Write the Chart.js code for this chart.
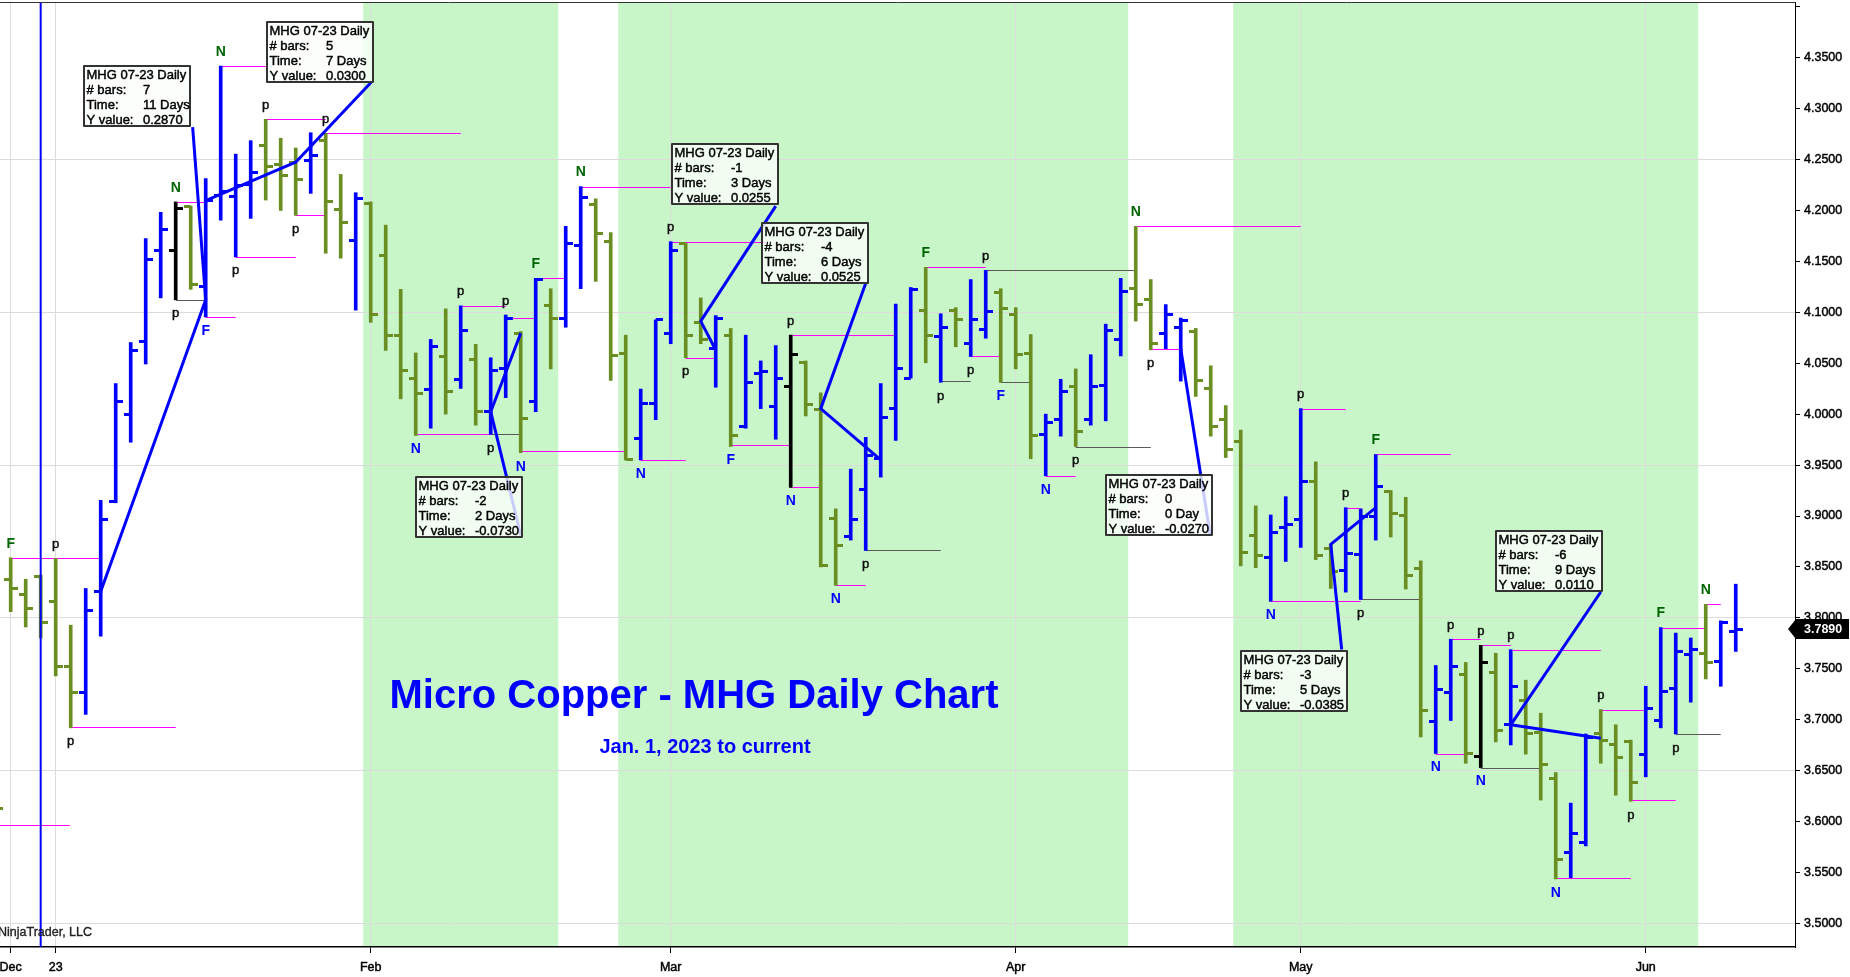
<!DOCTYPE html>
<html><head><meta charset="utf-8">
<script src="https://cdn.jsdelivr.net/npm/chart.js@4.4.0/dist/chart.umd.min.js"></script>
<style>html,body{margin:0;padding:0;background:#fff;overflow:hidden}#wrap{width:1850px;height:977px;position:relative}</style>
</head><body><div id="wrap"><canvas id="c" width="1850" height="977"></canvas></div>
<script>
// ---------- DATA ----------
const barNo = [-1,0,1,2,3,4,5,6,7,8,9,10,11,12,13,14,15,16,17,18,19,20,21,22,23,24,25,26,27,28,29,30,31,32,33,34,35,36,37,38,39,40,41,42,43,44,45,46,47,48,49,50,51,52,53,54,55,56,57,58,59,60,61,62,63,64,65,66,67,68,69,70,71,72,73,74,75,76,77,78,79,80,81,82,83,84,85,86,87,88,89,90,91,92,93,94,95,96,97,98,99,100,101,102,103,104,105,106,107,108,109,110,111,112,113,114,115];
const opens = [3.6250,3.8373,3.8229,3.8403,3.8163,3.7521,3.7263,3.8259,3.9142,3.9994,4.0715,4.1603,4.1603,4.2041,4.1255,4.2150,4.2140,4.2250,4.2636,4.2455,4.2473,4.2491,4.2684,4.2011,4.1705,4.2071,4.1555,4.0775,4.0354,4.0240,4.0565,4.0342,4.0541,4.0024,4.0450,4.0793,4.0120,4.1063,4.0943,4.1651,4.2053,4.1693,4.0595,3.9760,4.0102,4.0793,4.1675,4.0895,4.0643,4.0775,3.9880,4.0402,4.0072,4.0270,4.0504,4.0042,3.8974,3.8800,3.9262,3.9562,4.0060,4.0354,4.1015,4.0763,4.1021,4.0691,4.0835,4.1195,4.0973,4.0595,3.9802,3.9952,4.0270,3.9952,4.0282,4.0733,4.1231,4.1123,4.0793,4.0850,4.0811,4.0252,3.9952,3.9730,3.8812,3.8590,3.8890,3.8962,3.9340,3.8680,3.8469,3.8620,3.8992,3.9244,3.9010,3.8481,3.6981,3.7263,3.7443,3.6639,3.7461,3.6951,3.7191,3.6873,3.6422,3.5702,3.5792,3.6861,3.6753,3.6789,3.6663,3.6993,3.7311,3.7641,3.7653,3.7569,3.7863];
const highs = [3.6350,3.8590,3.8379,3.8420,3.8584,3.7929,3.8289,3.9154,4.0300,4.0703,4.1723,4.1981,4.2083,4.2041,4.2311,4.3416,4.2552,4.2684,4.2894,4.2708,4.2612,4.2762,4.2756,4.2353,4.2173,4.2083,4.1855,4.1225,4.0601,4.0733,4.1033,4.1063,4.0685,4.0553,4.0973,4.0811,4.1333,4.1231,4.1843,4.2233,4.2113,4.1783,4.0775,4.0246,4.0925,4.1693,4.1675,4.1141,4.0967,4.0841,4.0775,4.0522,4.0673,4.0775,4.0522,4.0210,3.9070,3.9460,3.9772,4.0300,4.1081,4.1243,4.1441,4.0985,4.1045,4.1321,4.1411,4.1231,4.1045,4.0781,4.0000,4.0342,4.0444,4.0583,4.0883,4.1333,4.1843,4.1321,4.1075,4.0943,4.0841,4.0474,4.0084,3.9844,3.9100,3.9010,3.9190,4.0054,3.9532,3.8722,3.9082,3.9070,3.9604,3.9250,3.9184,3.8560,3.7533,3.7791,3.7563,3.7731,3.7653,3.7689,3.7389,3.7065,3.6482,3.6182,3.6861,3.7101,3.6951,3.6801,3.7329,3.7905,3.7851,3.7803,3.8133,3.7971,3.8331];
const lows = [3.5972,3.8061,3.7911,3.7803,3.7431,3.6921,3.7053,3.7821,3.9130,3.9724,4.0492,4.1141,4.1123,4.1225,4.0955,4.1903,4.1543,4.1921,4.2101,4.1999,4.1951,4.2167,4.1579,4.1531,4.1021,4.0901,4.0625,4.0150,3.9790,3.9862,4.0000,4.0252,3.9892,3.9802,4.0162,3.9622,4.0024,4.0444,4.0853,4.1231,4.1303,4.0330,3.9550,3.9550,3.9946,4.0691,4.0553,4.0691,4.0264,3.9682,3.9862,4.0054,3.9754,3.9280,3.9982,3.8500,3.8319,3.8764,3.8662,3.9382,3.9742,4.0354,4.0504,4.0312,4.0661,4.0565,4.0745,4.0312,4.0444,3.9562,3.9394,3.9784,3.9682,3.9892,3.9934,4.0571,4.0913,4.0631,4.0643,4.0324,4.0174,3.9784,3.9574,3.8511,3.8493,3.8163,3.8554,3.8692,3.8572,3.8289,3.8253,3.8181,3.8764,3.8794,3.8283,3.6831,3.6669,3.6993,3.6573,3.6531,3.6783,3.6753,3.6663,3.6212,3.5438,3.5450,3.5762,3.6573,3.6260,3.6200,3.6440,3.6921,3.6861,3.7173,3.7401,3.7329,3.7671];
const closes = [3.6128,3.8289,3.8097,3.7959,3.7521,3.7263,3.8073,3.8968,4.0120,4.0625,4.1513,4.1813,4.2023,4.1273,4.2095,4.2185,4.2240,4.2371,4.2431,4.2341,4.2305,4.2534,4.2083,4.1885,4.2113,4.0973,4.0775,4.0426,4.0204,4.0667,4.0222,4.0823,4.0024,4.0432,4.0943,3.9958,4.1321,4.0943,4.1675,4.2131,4.1771,4.0571,3.9550,4.0102,4.0925,4.1603,4.0775,4.0733,4.0943,3.9790,4.0312,4.0420,4.0354,4.0583,4.0090,3.8511,3.8710,3.8962,3.9592,3.9964,4.0450,4.1225,4.0775,4.0853,4.0931,4.0931,4.1003,4.1033,4.0583,3.9790,3.9922,4.0222,3.9832,4.0270,4.0823,4.1201,4.1075,4.0691,4.0973,4.0920,4.0330,3.9874,3.9652,3.8644,3.8614,3.8842,3.8914,3.9340,3.8614,3.8451,3.8632,3.8992,3.9292,3.9022,3.8421,3.7089,3.7293,3.7521,3.6669,3.7563,3.6891,3.7323,3.6861,3.6561,3.5624,3.5888,3.6831,3.6801,3.6633,3.6380,3.7113,3.7281,3.7671,3.7689,3.7563,3.7959,3.7890];
const markedBars = [11, 52, 98];

const xTickBars = [0, 3, 24, 44, 67, 86, 109];
const xTickLabels = ['Dec', '23', 'Feb', 'Mar', 'Apr', 'May', 'Jun'];
const yTicks = [3.50,3.55,3.60,3.65,3.70,3.75,3.80,3.85,3.90,3.95,4.00,4.05,4.10,4.15,4.20,4.25,4.30,4.35,4.40];

const shadeFrom = [23.5, 40.5, 81.5];
const shadeTo = [36.5, 74.5, 112.5];
const sessionLineBar = 2;

// swing markers: bar, side (h/l), text
const markBar  = [0,3,4,11,11,13,14,15,17,19,21,27,30,32,33,34,35,38,42,44,45,48,52,52,55,57,61,62,64,65,66,69,71,75,76,84,86,89,90,91,95,96,98,98,100,103,106,108,110,111,113];
const markSide = ['h','h','l','h','l','l','h','l','h','l','h','l','h','l','h','l','h','h','l','h','l','l','h','l','l','l','h','l','l','h','l','l','l','h','l','l','h','h','l','h','l','h','h','l','h','l','h','l','h','l','h'];
const markText = ['F','p','p','N','p','F','N','p','p','p','p','N','p','p','p','N','F','N','N','p','p','F','p','N','N','p','F','p','p','p','F','N','p','N','p','N','p','p','p','F','N','p','p','N','p','N','p','p','F','p','N'];

// horizontal level lines: from bar, to bar, price
const magFrom = [-1.5,0,4,11,13,14,15,17,19,21,27,30,33,34,35,38,42,44,45,48,52,52,55,61,64,69,75,76,84,86,89,91,95,96,98,100,103,106,108,110,113];
const magTo   = [3.95,6,11,13,15,17,19,21,21,30,32,33,35,41,37,44,45,50.4,47,52,59,54,57,65,66,71,86,78,90,89,90,96,97,98,100,106,108,109,111,113,114];
const magVal  = [3.5972,3.8584,3.6925,4.2083,4.0955,4.3416,4.1543,4.2894,4.1951,4.2762,3.9802,4.1063,4.0943,3.9640,4.1333,4.2233,3.9550,4.1693,4.0553,3.9694,4.0775,3.9280,3.8319,4.1441,4.0571,3.9394,4.1843,4.0643,3.8163,4.0054,3.9082,3.9604,3.6669,3.7791,3.7731,3.7689,3.5450,3.7101,3.6212,3.7905,3.8133];
const grayFrom = [11,32,57,62,65,66,71,90,98,111];
const grayTo   = [13,34,62,64,75,68,76,94,102,114];
const grayVal  = [4.1123,3.9802,3.8662,4.0330,4.1411,4.0312,3.9682,3.8181,3.6531,3.6861];

// drawn measuring lines: [bar, price] polylines
const measureLines = [
  [[6,3.8260],[13,4.1123],[12.13,4.2816]],
  [[13,4.2095],[19,4.2473],[24.02,4.3254]],
  [[34,4.0793],[32,4.0024],[34,3.8812]],
  [[47,4.0630],[46,4.0913],[51,4.2041]],
  [[58,3.9550],[54,4.0054],[57,4.1285]],
  [[78,4.0643],[79.97,3.8812]],
  [[91,3.9082],[88,3.8722],[88.73,3.7690]],
  [[106,3.6819],[100,3.6951],[106,3.8254]]
];
// info boxes: top-left anchor (bar, price) and contents
const boxBar   = [4.8, 17.0, 26.97, 44.0, 50.0, 72.97, 81.97, 98.97];
const boxPrice = [4.3422, 4.3854, 3.9392, 4.2666, 4.1885, 3.9412, 3.7684, 3.8862];
const boxBars  = ['7','5','-2','-1','-4','0','-3','-6'];
const boxTime  = ['11 Days','7 Days','2 Days','3 Days','6 Days','0 Day','5 Days','9 Days'];
const boxY     = ['0.2870','0.0300','-0.0730','0.0255','0.0525','-0.0270','-0.0385','0.0110'];

const titleText = 'Micro Copper - MHG Daily Chart';
const subtitleText = 'Jan. 1, 2023 to current';
const creditText = 'NinjaTrader, LLC';

// ---------- STYLE ----------
const BLUE = '#0000FF', OLIVE = '#6B8E23', BLACK = '#000000', NGREEN = '#006400';
const FONT = '"Liberation Sans", Arial, Helvetica, sans-serif';

const barColors = barNo.map((b, i) => markedBars.includes(b) ? BLACK : (closes[i] >= opens[i] ? BLUE : OLIVE));

const tickCache = {};
function tickImg(color, side) {
  const key = color + side;
  if (tickCache[key]) return tickCache[key];
  const c = document.createElement('canvas');
  c.width = 14; c.height = 3;
  const g = c.getContext('2d');
  g.fillStyle = color;
  if (side < 0) g.fillRect(0, 0, 7, 3); else g.fillRect(7, 0, 7, 3);
  tickCache[key] = c;
  return c;
}

function heavyText(ctx, t, x, y, w) {
  ctx.fillText(t, x, y);
  ctx.lineWidth = w;
  ctx.strokeStyle = ctx.fillStyle;
  ctx.strokeText(t, x, y);
}

const annot = {
  id: 'annot',
  beforeDraw(chart) {
    const {ctx, chartArea: a, scales: {x}} = chart;
    ctx.save();
    ctx.fillStyle = '#fff';
    ctx.fillRect(0, 0, chart.width, chart.height);
    ctx.beginPath(); ctx.rect(a.left, a.top, a.right - a.left, a.bottom - a.top); ctx.clip();
    ctx.fillStyle = '#C8F6C8';
    for (let i = 0; i < shadeFrom.length; i++) {
      const x0 = x.getPixelForValue(shadeFrom[i]), x1 = x.getPixelForValue(shadeTo[i]);
      ctx.fillRect(x0, a.top, x1 - x0, a.bottom - a.top);
    }
    ctx.restore();
  },
  beforeDatasetsDraw(chart) {
    const {ctx, chartArea: a, scales: {x, y}} = chart;
    ctx.save();
    ctx.beginPath(); ctx.rect(a.left, a.top, a.right - a.left, a.bottom - a.top); ctx.clip();
    ctx.lineWidth = 1;
    ctx.strokeStyle = '#FF00FF';
    for (let i = 0; i < magVal.length; i++) {
      const yy = Math.round(y.getPixelForValue(magVal[i])) + 0.5;
      ctx.beginPath(); ctx.moveTo(x.getPixelForValue(magFrom[i]), yy); ctx.lineTo(x.getPixelForValue(magTo[i]), yy); ctx.stroke();
    }
    ctx.strokeStyle = '#5a5a5a';
    for (let i = 0; i < grayVal.length; i++) {
      const yy = Math.round(y.getPixelForValue(grayVal[i])) + 0.5;
      ctx.beginPath(); ctx.moveTo(x.getPixelForValue(grayFrom[i]), yy); ctx.lineTo(x.getPixelForValue(grayTo[i]), yy); ctx.stroke();
    }
    // title texts
    ctx.fillStyle = BLUE;
    ctx.textAlign = 'center'; ctx.textBaseline = 'middle';
    ctx.font = 'bold 40px ' + FONT;
    ctx.fillText(titleText, 694, 697);
    ctx.font = 'bold 20px ' + FONT;
    ctx.fillText(subtitleText, 705, 747);
    ctx.restore();
  },
  afterDatasetsDraw(chart) {
    const {ctx, chartArea: a, scales: {x, y}} = chart;
    ctx.save();
    ctx.beginPath(); ctx.rect(a.left, a.top, a.right - a.left, a.bottom - a.top); ctx.clip();
    // session line
    ctx.strokeStyle = BLUE; ctx.lineWidth = 2;
    const sx = x.getPixelForValue(sessionLineBar);
    ctx.beginPath(); ctx.moveTo(sx, a.top); ctx.lineTo(sx, a.bottom); ctx.stroke();
    // swing markers
    ctx.textAlign = 'center'; ctx.textBaseline = 'middle';
    for (let i = 0; i < markBar.length; i++) {
      const bi = barNo.indexOf(markBar[i]);
      const up = markSide[i] === 'h';
      const yy = up ? y.getPixelForValue(highs[bi]) - 14 : y.getPixelForValue(lows[bi]) + 14;
      const t = markText[i];
      if (t === 'p') {
        ctx.font = '13px ' + FONT; ctx.fillStyle = '#111';
        heavyText(ctx, t, x.getPixelForValue(markBar[i]), yy, 0.5);
      } else {
        ctx.font = 'bold 14px ' + FONT; ctx.fillStyle = up ? NGREEN : BLUE;
        ctx.fillText(t, x.getPixelForValue(markBar[i]), yy);
      }
    }
    // measure lines
    ctx.strokeStyle = BLUE; ctx.lineWidth = 3; ctx.lineJoin = 'round';
    measureLines.forEach(pts => {
      ctx.beginPath();
      pts.forEach((p, k) => { const px = x.getPixelForValue(p[0]), py = y.getPixelForValue(p[1]); if (k) ctx.lineTo(px, py); else ctx.moveTo(px, py); });
      ctx.stroke();
    });
    // info boxes
    for (let i = 0; i < boxBar.length; i++) {
      const left = Math.round(x.getPixelForValue(boxBar[i]));
      const top = Math.round(y.getPixelForValue(boxPrice[i]));
      ctx.fillStyle = 'rgba(250,255,250,0.8)';
      ctx.fillRect(left, top, 108, 62);
      ctx.strokeStyle = '#333'; ctx.lineWidth = 2;
      ctx.strokeRect(left + 1, top + 1, 106, 60);
      ctx.fillStyle = '#000'; ctx.font = '13px ' + FONT;
      ctx.textAlign = 'left'; ctx.textBaseline = 'middle';
      const rows = [['MHG 07-23 Daily', ''], ['# bars:', boxBars[i]], ['Time:', boxTime[i]], ['Y value:', boxY[i]]];
      rows.forEach((r, k) => {
        const yy = top + 10.8 + 15 * k;
        heavyText(ctx, r[0], left + 3.5, yy, 0.45);
        if (r[1]) heavyText(ctx, r[1], left + 60, yy, 0.45);
      });
    }
    ctx.restore();
  },
  afterDraw(chart) {
    const {ctx, chartArea: a, scales: {y}} = chart;
    ctx.save();
    // top border
    ctx.strokeStyle = '#333'; ctx.lineWidth = 1;
    ctx.beginPath(); ctx.moveTo(a.left, a.top + 0.5); ctx.lineTo(a.right, a.top + 0.5); ctx.stroke();
    // credit
    ctx.fillStyle = '#222'; ctx.font = '12.5px ' + FONT; ctx.textAlign = 'left'; ctx.textBaseline = 'middle';
    heavyText(ctx, creditText, -2, 933, 0.35);
    // last price marker
    const last = closes[closes.length - 1];
    const yy = Math.round(y.getPixelForValue(last));
    ctx.fillStyle = '#000';
    ctx.beginPath();
    ctx.moveTo(a.right - 7, yy); ctx.lineTo(a.right + 1, yy - 10); ctx.lineTo(1849, yy - 10);
    ctx.lineTo(1849, yy + 10); ctx.lineTo(a.right + 1, yy + 10); ctx.closePath(); ctx.fill();
    ctx.fillStyle = '#fff'; ctx.font = 'bold 12.5px ' + FONT; ctx.textAlign = 'left'; ctx.textBaseline = 'middle';
    ctx.fillText(last.toFixed(4), a.right + 9, yy + 0.5);
    ctx.restore();
  }
};

const pts = arr => barNo.map((b, i) => ({x: b, y: arr[i]}));

new Chart(document.getElementById('c'), {
  type: 'bar',
  data: {
    datasets: [
      {
        type: 'bar',
        data: barNo.map((b, i) => ({x: b, y: [lows[i], highs[i]]})),
        backgroundColor: barColors,
        borderWidth: 0,
        barThickness: 3,
        grouped: false,
        clip: 0,
        order: 3
      },
      {
        type: 'line',
        data: pts(opens),
        showLine: false,
        pointStyle: ctx => tickImg(barColors[ctx.dataIndex], -1),
        pointRadius: 8, pointHoverRadius: 8, pointBorderWidth: 0,
        clip: 0, order: 2
      },
      {
        type: 'line',
        data: pts(closes),
        showLine: false,
        pointStyle: ctx => tickImg(barColors[ctx.dataIndex], 1),
        pointRadius: 8, pointHoverRadius: 8, pointBorderWidth: 0,
        clip: 0, order: 1
      }
    ]
  },
  options: {
    responsive: false,
    animation: false,
    events: [],
    layout: {autoPadding: false, padding: {top: 2, left: 0, right: 0, bottom: 0}},
    plugins: {legend: {display: false}, tooltip: {enabled: false}},
    scales: {
      x: {
        type: 'linear', min: -0.713, max: 118.95, offset: false,
        afterBuildTicks: s => { s.ticks = xTickBars.map(v => ({value: v})); },
        afterFit: s => { s.height = 30; s.paddingLeft = 0; s.paddingRight = 0; },
        ticks: {
          autoSkip: false, maxRotation: 0, padding: 7, color: '#000',
          textStrokeColor: '#000', textStrokeWidth: 0.45,
          font: {family: FONT, size: 12.5, weight: 'normal'},
          callback: v => { const k = xTickBars.indexOf(v); return k >= 0 ? xTickLabels[k] : ''; }
        },
        grid: {offset: false, color: '#dcdcdc', lineWidth: 1, drawTicks: true, tickLength: 6, tickColor: '#000', tickWidth: 1},
        border: {display: true, color: '#000', width: 1.5}
      },
      y: {
        type: 'linear', position: 'right', min: 3.477, max: 4.4045, beginAtZero: false,
        afterBuildTicks: s => { s.ticks = yTicks.map(v => ({value: v})); },
        afterFit: s => { s.width = 55; s.paddingTop = 0; s.paddingBottom = 0; },
        ticks: {
          padding: 4, color: '#000',
          textStrokeColor: '#000', textStrokeWidth: 0.45,
          font: {family: FONT, size: 12.5, weight: 'normal'},
          callback: v => v > 4.39 ? '' : v.toFixed(4)
        },
        grid: {
          color: c => { const r = (c.tick.value - 3.5) / 0.15; return Math.abs(r - Math.round(r)) < 1e-6 && c.tick.value < 4.39 ? '#dcdcdc' : 'rgba(0,0,0,0)'; },
          lineWidth: 1, drawTicks: true, tickLength: 5, tickColor: '#000', tickWidth: 1
        },
        border: {display: true, color: '#000', width: 1}
      }
    }
  },
  plugins: [annot]
});
</script>
</body></html>
